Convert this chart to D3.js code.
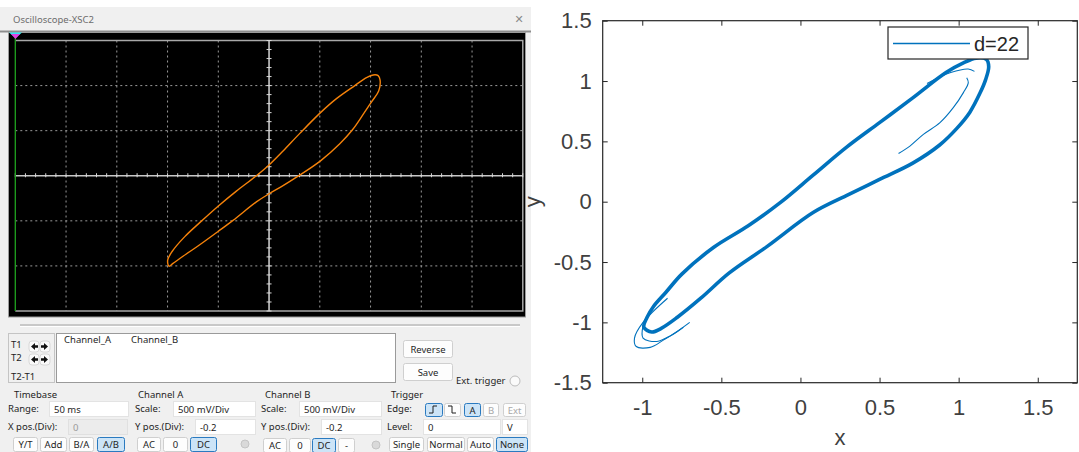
<!DOCTYPE html>
<html>
<head>
<meta charset="utf-8">
<script src="https://cdn.jsdelivr.net/npm/d3@7"></script>
<style>
  body { margin: 0; background: #fff; }
  svg { display: block; }
</style>
</head>
<body>
<script>
// oscilloscope trace (A/B mode), volts as shown on screen: [channel A, channel B]
var scopeLoop = [
  [-0.986,-1.003], [-0.999,-0.937], [-0.955,-0.840], [-0.830,-0.675], [-0.683,-0.520],
  [-0.499,-0.335], [-0.322,-0.170], [-0.131,-0.005], [0.000,0.120], [0.138,0.275],
  [0.303,0.470], [0.507,0.700], [0.664,0.855], [0.845,1.000], [0.960,1.088],
  [1.026,1.118], [1.075,1.111], [1.094,1.060], [1.080,0.940], [1.010,0.820],
  [0.927,0.680], [0.822,0.510], [0.697,0.355], [0.507,0.165], [0.286,-0.005],
  [0.138,-0.110], [0.000,-0.200], [-0.125,-0.290], [-0.355,-0.495], [-0.499,-0.615],
  [-0.683,-0.765], [-0.848,-0.893], [-0.946,-0.972]
];

// simulated phase portrait, d=22
var mainLoop = [
  [-0.99,-1.04], [-0.97,-0.96], [-0.93,-0.87], [-0.85,-0.75], [-0.75,-0.60], [-0.55,-0.38],
  [-0.33,-0.20], [-0.13,-0.01], [0.08,0.22], [0.29,0.45], [0.50,0.655], [0.71,0.86],
  [0.92,1.07], [1.03,1.15], [1.11,1.19], [1.175,1.18], [1.19,1.12], [1.17,1.01],
  [1.135,0.90], [1.07,0.74], [0.99,0.61], [0.88,0.47], [0.71,0.32], [0.50,0.185],
  [0.29,0.05], [0.08,-0.09], [-0.21,-0.37], [-0.45,-0.59], [-0.63,-0.80], [-0.78,-0.96],
  [-0.88,-1.05], [-0.94,-1.08]
];
var outerTransient = [
  [-0.84,-0.80], [-0.995,-1.00], [-1.049,-1.13], [-1.038,-1.20], [-0.95,-1.207],
  [-0.864,-1.145], [-0.777,-1.073], [-0.70,-1.00]
];
var midTransient = [
  [-0.96,-0.93], [-0.995,-1.03], [-0.995,-1.13], [-0.907,-1.158], [-0.82,-1.11], [-0.74,-1.04]
];
var innerTransient = [
  [1.051,1.028], [1.061,0.987], [1.03,0.904], [0.966,0.779], [0.882,0.655],
  [0.777,0.558], [0.692,0.461], [0.62,0.40]
];
var topTransient = [
  [0.80,0.98], [0.95,1.07], [1.06,1.10], [1.10,1.08]
];

var xTicks = [-1, -0.5, 0, 0.5, 1, 1.5];
var yTicks = [-1.5, -1, -0.5, 0, 0.5, 1, 1.5];
var legendLabel = "d=22";

var svg = d3.select("body").append("svg")
    .attr("width", 1079)
    .attr("height", 452);

var uiFont = "'Noto Sans', 'DejaVu Sans', sans-serif";

// ---------- oscilloscope window ----------
svg.append("rect").attr("x", 0).attr("y", 0).attr("width", 531).attr("height", 452).attr("fill", "#f0f0f0");
svg.append("rect").attr("x", 0).attr("y", 0).attr("width", 531).attr("height", 7).attr("fill", "#fff");
svg.append("text").attr("x", 13).attr("y", 23).text("Oscilloscope-XSC2")
    .attr("font-family", uiFont).attr("font-size", "9.5px").attr("fill", "#6d6d6d");
svg.append("text").attr("x", 519).attr("y", 23).attr("text-anchor", "middle").text("\u2715")
    .attr("font-family", uiFont).attr("font-size", "11px").attr("fill", "#8a8a8a");
svg.append("rect").attr("x", 0).attr("y", 30.5).attr("width", 531).attr("height", 2).attr("fill", "#8d8d8d");

svg.append("rect").attr("x", 8.5).attr("y", 32.5).attr("width", 517).attr("height", 284.5)
    .attr("fill", "#000").attr("stroke", "#9c9c9c");

var sx = d3.scaleLinear().domain([-2.5, 2.5]).range([15.3, 522.8]);
var sy = d3.scaleLinear().domain([-1.5, 1.5]).range([311, 40.5]);

var scope = svg.append("g");

scope.selectAll(".vgrid").data(sx.ticks(10).filter(function(d) { return d > -2.5 && d < 2.5 && d !== 0; }))
  .enter().append("line")
    .attr("x1", function(d) { return sx(d); }).attr("x2", function(d) { return sx(d); })
    .attr("y1", sy(1.5)).attr("y2", sy(-1.5))
    .attr("stroke", "#9a9a9a").attr("stroke-width", 1).attr("stroke-dasharray", "2,3");

scope.selectAll(".hgrid").data(sy.ticks(6).filter(function(d) { return d > -1.5 && d < 1.5 && d !== 0; }))
  .enter().append("line")
    .attr("x1", sx(-2.5)).attr("x2", sx(2.5))
    .attr("y1", function(d) { return sy(d); }).attr("y2", function(d) { return sy(d); })
    .attr("stroke", "#9a9a9a").attr("stroke-width", 1).attr("stroke-dasharray", "2,3");

// border of the grid
scope.append("path")
    .attr("d", "M" + sx(-2.5) + "," + sy(1.5) + "H" + sx(2.5) + "V" + sy(-1.5) + "H" + sx(-2.5))
    .attr("fill", "none").attr("stroke", "#a8a8a8").attr("stroke-width", 1.5);

// centre axes with small ticks
scope.append("line").attr("x1", sx(-2.5)).attr("x2", sx(2.5)).attr("y1", sy(0)).attr("y2", sy(0))
    .attr("stroke", "#c8c8c8").attr("stroke-width", 1.6);
scope.append("line").attr("x1", sx(0)).attr("x2", sx(0)).attr("y1", sy(1.5)).attr("y2", sy(-1.5))
    .attr("stroke", "#c8c8c8").attr("stroke-width", 1.6);
scope.selectAll(".xt").data(sx.ticks(50)).enter().append("line")
    .attr("x1", function(d) { return sx(d); }).attr("x2", function(d) { return sx(d); })
    .attr("y1", sy(0) - 2.5).attr("y2", sy(0) + 1.5)
    .attr("stroke", "#d8d8d8").attr("stroke-width", 1);
scope.selectAll(".yt").data(sy.ticks(30)).enter().append("line")
    .attr("x1", sx(0) - 2.5).attr("x2", sx(0) + 2.5)
    .attr("y1", function(d) { return sy(d); }).attr("y2", function(d) { return sy(d); })
    .attr("stroke", "#d8d8d8").attr("stroke-width", 1);

// cursor T1/T2
scope.append("line").attr("x1", 15.3).attr("x2", 15.3).attr("y1", 36).attr("y2", sy(-1.5))
    .attr("stroke", "#1fa31f").attr("stroke-width", 1.3);
scope.append("path").attr("d", "M9,32.5H22L15.5,38Z").attr("fill", "#2ee8f0");
scope.append("path").attr("d", "M11,34H20L15.5,39Z").attr("fill", "#e040e0");

// trace
scope.append("path")
    .datum(scopeLoop)
    .attr("d", d3.line()
        .x(function(d) { return sx(d[0]); })
        .y(function(d) { return sy(d[1]); })
        .curve(d3.curveCatmullRomClosed.alpha(0.5)))
    .attr("fill", "none").attr("stroke", "#f5820a").attr("stroke-width", 1.4);

// ---------- control panel ----------
var panel = svg.append("g").attr("font-family", uiFont).attr("font-size", "9.5px").attr("fill", "#1e1e1e");

panel.append("line").attr("x1", 20).attr("x2", 520).attr("y1", 325).attr("y2", 325).attr("stroke", "#a0a0a0").attr("stroke-width", 1.2);
panel.append("line").attr("x1", 20).attr("x2", 520).attr("y1", 326.5).attr("y2", 326.5).attr("stroke", "#fff").attr("stroke-width", 1);

panel.append("rect").attr("x", 8.5).attr("y", 333.5).attr("width", 46).attr("height", 49)
    .attr("fill", "#f0f0f0").attr("stroke", "#c4c4c4");
panel.append("rect").attr("x", 56.5).attr("y", 333.5).attr("width", 339).attr("height", 49)
    .attr("fill", "#fff").attr("stroke", "#9a9a9a");

function label(x, y, t, col) {
  panel.append("text").attr("x", x).attr("y", y).text(t).attr("fill", col || "#1e1e1e");
}
function button(x, y, w, h, t, sel, dis) {
  panel.append("rect").attr("x", x + 0.5).attr("y", y + 0.5).attr("width", w).attr("height", h).attr("rx", 2)
      .attr("fill", sel ? "#cce4f7" : "#fdfdfd").attr("stroke", sel ? "#2a7ac0" : "#cfcfcf");
  panel.append("text").attr("x", x + w / 2 + 0.5).attr("y", y + h / 2 + 4).attr("text-anchor", "middle")
      .text(t).attr("fill", dis ? "#a8a8a8" : "#1e1e1e");
}
function field(x, y, w, h, t, dis) {
  panel.append("rect").attr("x", x + 0.5).attr("y", y + 0.5).attr("width", w).attr("height", h)
      .attr("fill", dis ? "#ececec" : "#fff").attr("stroke", dis ? "#e0e0e0" : "#e3e3e3");
  panel.append("text").attr("x", x + 5).attr("y", y + h / 2 + 4).text(t).attr("fill", dis ? "#9a9a9a" : "#1e1e1e");
}

label(11, 348, "T1");
label(11, 361, "T2");
label(11, 380, "T2-T1");
[[29, 341], [40, 341], [29, 354], [40, 354]].forEach(function(p, i) {
  panel.append("rect").attr("x", p[0]).attr("y", p[1]).attr("width", 10).attr("height", 11).attr("rx", 3)
      .attr("fill", "#fafafa").attr("stroke", "#d8d8d8");
  panel.append("path")
      .attr("d", i % 2 === 0
        ? "M" + (p[0] + 2) + "," + (p[1] + 5.5) + "l4,-3.5v2.2h3v2.6h-3v2.2Z"
        : "M" + (p[0] + 8) + "," + (p[1] + 5.5) + "l-4,-3.5v2.2h-3v2.6h3v2.2Z")
      .attr("fill", "#111");
});
label(64, 343, "Channel_A");
label(131, 343, "Channel_B");

button(403, 340, 49, 17, "Reverse");
button(403, 363, 49, 17, "Save");
label(456, 384, "Ext. trigger");
panel.append("circle").attr("cx", 515).attr("cy", 381).attr("r", 5).attr("fill", "#fafafa").attr("stroke", "#bcbcbc");

label(14, 398, "Timebase");
label(138, 398, "Channel A");
label(265, 398, "Channel B");
label(391, 398, "Trigger");

label(8, 412, "Range:");
field(49, 401, 79, 15, "50 ms");
label(8, 430, "X pos.(Div):");
field(68, 419, 59, 15, "0", true);
button(13, 437, 24, 14, "Y/T");
button(40, 437, 26, 14, "Add");
button(69, 437, 24, 14, "B/A");
button(97, 437, 27, 14, "A/B", true);

label(135, 412, "Scale:");
field(173, 401, 82, 15, "500 mV/Div");
label(135, 430, "Y pos.(Div):");
field(195, 419, 60, 15, "-0.2");
button(137, 437, 23, 14, "AC");
button(163, 437, 24, 14, "0");
button(190, 437, 26, 14, "DC", true);
panel.append("circle").attr("cx", 245).attr("cy", 444).attr("r", 4).attr("fill", "#d9d9d9").attr("stroke", "#c4c4c4");

label(261, 412, "Scale:");
field(299, 401, 82, 15, "500 mV/Div");
label(261, 430, "Y pos.(Div):");
field(321, 419, 60, 15, "-0.2");
button(263, 438, 23, 14, "AC");
button(289, 438, 21, 14, "0");
button(312, 438, 23, 14, "DC", true);
button(338, 438, 16, 14, "-");
panel.append("circle").attr("cx", 376).attr("cy", 445).attr("r", 4).attr("fill", "#d9d9d9").attr("stroke", "#c4c4c4");

label(387, 412, "Edge:");
button(425, 403, 17, 13, "", true);
panel.append("path").attr("d", "M429,413H433V406H437").attr("fill", "none").attr("stroke", "#1e1e1e").attr("stroke-width", 1);
button(444, 403, 16, 13, "");
panel.append("path").attr("d", "M448,406H452V413H456").attr("fill", "none").attr("stroke", "#1e1e1e").attr("stroke-width", 1);
button(464, 403, 16, 13, "A", true);
button(483, 403, 15, 13, "B", false, true);
button(503, 403, 22, 13, "Ext", false, true);
label(387, 430, "Level:");
field(423, 419, 77, 15, "0");
field(502, 419, 25, 15, "V");
button(389, 437, 34, 14, "Single");
button(427, 437, 37, 14, "Normal");
button(467, 437, 26, 14, "Auto");
button(496, 437, 31, 14, "None", true);

// ---------- phase portrait ----------
var rx = d3.scaleLinear().domain([-1.25, 1.75]).range([602.7, 1077.3]);
var ry = d3.scaleLinear().domain([-1.5, 1.5]).range([382.7, 20.7]);
var plotFont = "'Liberation Sans', Arial, sans-serif";

var plot = svg.append("g");

var line = d3.line()
    .x(function(d) { return rx(d[0]); })
    .y(function(d) { return ry(d[1]); });

[outerTransient, midTransient, innerTransient, topTransient].forEach(function(seg) {
  plot.append("path").datum(seg)
      .attr("d", line.curve(d3.curveCatmullRom.alpha(0.5)))
      .attr("fill", "none").attr("stroke", "#0072bd").attr("stroke-width", 1.1);
});
plot.append("path").datum(mainLoop)
    .attr("d", line.curve(d3.curveCatmullRomClosed.alpha(0.5)))
    .attr("fill", "none").attr("stroke", "#0072bd").attr("stroke-width", 3.6).attr("stroke-linejoin", "round");

function styleAxis(g) {
  g.select(".domain").remove();
  g.selectAll("line").attr("stroke", "#262626");
  g.selectAll("text").attr("fill", "#404040").attr("font-family", plotFont).attr("font-size", "22px");
}

plot.append("g").attr("transform", "translate(0," + ry(-1.5) + ")")
    .call(d3.axisBottom(rx).tickValues(xTicks).tickSizeInner(-5).tickSizeOuter(0).tickPadding(17)
      .tickFormat(function(d) { return d; }))
    .call(styleAxis);
plot.append("g").attr("transform", "translate(0," + ry(1.5) + ")")
    .call(d3.axisTop(rx).tickValues(xTicks).tickSizeInner(-5).tickSizeOuter(0).tickFormat(""))
    .call(styleAxis);
plot.append("g").attr("transform", "translate(" + rx(-1.25) + ",0)")
    .call(d3.axisLeft(ry).tickValues(yTicks).tickSizeInner(-5).tickSizeOuter(0).tickPadding(11)
      .tickFormat(function(d) { return d; }))
    .call(styleAxis);
plot.append("g").attr("transform", "translate(" + rx(1.75) + ",0)")
    .call(d3.axisRight(ry).tickValues(yTicks).tickSizeInner(-5).tickSizeOuter(0).tickFormat(""))
    .call(styleAxis);

plot.append("rect")
    .attr("x", rx(-1.25)).attr("y", ry(1.5))
    .attr("width", rx(1.75) - rx(-1.25)).attr("height", ry(-1.5) - ry(1.5))
    .attr("fill", "none").attr("stroke", "#262626").attr("stroke-width", 1.2);

plot.append("text").attr("x", 840).attr("y", 445).attr("text-anchor", "middle").text("x")
    .attr("font-family", plotFont).attr("font-size", "22px").attr("fill", "#404040");
plot.append("text").attr("transform", "translate(540," + ry(0) + ") rotate(-90)")
    .attr("text-anchor", "middle").text("y")
    .attr("font-family", plotFont).attr("font-size", "22px").attr("fill", "#404040");

// legend
var legend = plot.append("g");
legend.append("rect").attr("x", 888).attr("y", 27).attr("width", 140).attr("height", 32)
    .attr("fill", "#fff").attr("stroke", "#262626").attr("stroke-width", 1.2);
legend.append("line").attr("x1", 893).attr("x2", 970).attr("y1", 43.5).attr("y2", 43.5)
    .attr("stroke", "#0072bd").attr("stroke-width", 1.5);
legend.append("text").attr("x", 974).attr("y", 51).text(legendLabel)
    .attr("font-family", plotFont).attr("font-size", "20px").attr("fill", "#262626");
</script>
</body>
</html>
